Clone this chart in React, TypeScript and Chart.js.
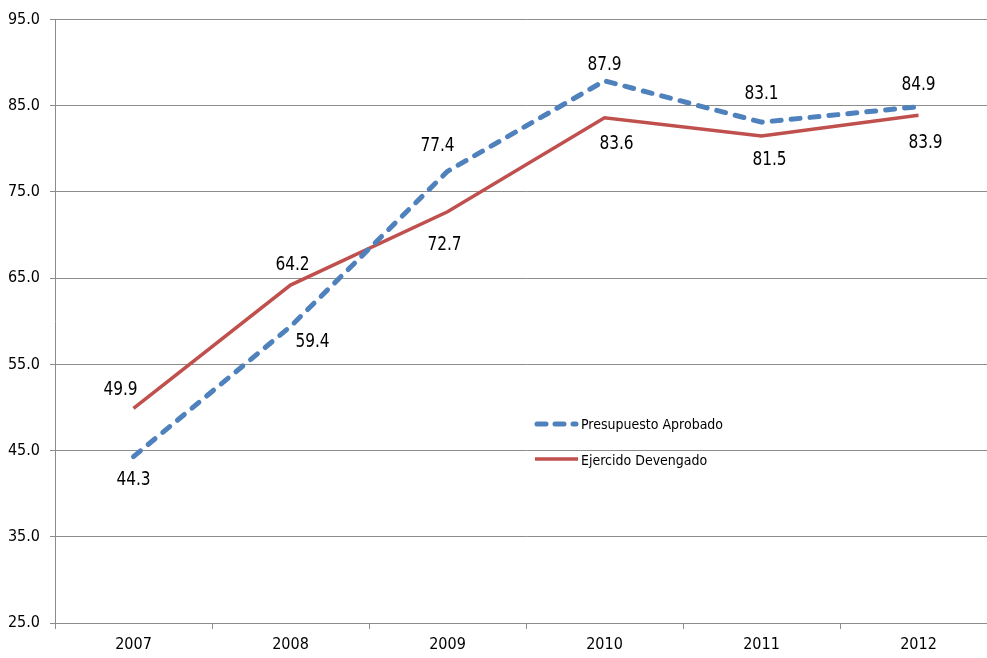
import React, { useEffect, useRef } from "react";
import { Chart, registerables } from "chart.js";

Chart.register(...registerables);

const years = ["2007", "2008", "2009", "2010", "2011", "2012"];
const presupuestoAprobado = [44.3, 59.4, 77.4, 87.9, 83.1, 84.9];
const ejercidoDevengado = [49.9, 64.2, 72.7, 83.6, 81.5, 83.9];
const seriesNames = ["Presupuesto Aprobado", "Ejercido Devengado"];

// label offsets (pixels) relative to each point
const blueLabelOffsets = [[0, 23], [22, 16], [-10, -25], [0, -16], [0, -28], [0, -22]];
const redLabelOffsets = [[-13, -18], [2, -20], [-3, 33], [12, 26], [8, 24], [7, 28]];

const FONT = "'Liberation Sans Narrow', 'DejaVu Sans Condensed', 'Liberation Sans', sans-serif";
const BLUE = "#4F81BD";
const RED = "#C0504D";
const GRID = "#8c8c8c";

export default function App() {
  const ref = useRef<HTMLCanvasElement | null>(null);

  useEffect(() => {
    if (!ref.current) return;
    const labelsPlugin = {
      id: "valueLabels",
      afterDatasetsDraw(chart: any) {
        const ctx = chart.ctx;
        ctx.save();
        ctx.font = `19px ${FONT}`;
        ctx.fillStyle = "#000";
        ctx.textAlign = "center";
        ctx.textBaseline = "middle";
        const offs = [blueLabelOffsets, redLabelOffsets];
        const sx = 0.9;
        chart.data.datasets.forEach((ds: any, di: number) => {
          const meta = chart.getDatasetMeta(di);
          meta.data.forEach((pt: any, i: number) => {
            const o = offs[di][i];
            const x = pt.x + o[0];
            const y = pt.y + o[1];
            ctx.save();
            ctx.translate(x, y);
            ctx.scale(sx, 1);
            ctx.fillText(Number(ds.data[i]).toFixed(1), 0, 0);
            ctx.restore();
          });
        });
        // legend
        ctx.font = `14px ${FONT}`;
        ctx.textAlign = "left";
        const lx = 537, ly = [424, 459];
        ctx.lineCap = "round";
        ctx.strokeStyle = BLUE;
        ctx.lineWidth = 5;
        ctx.setLineDash([9, 9]);
        ctx.beginPath();
        ctx.moveTo(lx, ly[0]);
        ctx.lineTo(lx + 39, ly[0]);
        ctx.stroke();
        ctx.setLineDash([]);
        ctx.lineCap = "butt";
        ctx.strokeStyle = RED;
        ctx.lineWidth = 3.5;
        ctx.beginPath();
        ctx.moveTo(lx - 2, ly[1]);
        ctx.lineTo(lx + 41, ly[1]);
        ctx.stroke();
        ctx.fillStyle = "#000";
        ctx.fillText(seriesNames[0], lx + 44, ly[0] + 1);
        ctx.fillText(seriesNames[1], lx + 44, ly[1] + 2);
        ctx.restore();
      },
    };

    const chart = new Chart(ref.current, {
      type: "line",
      data: {
        labels: years,
        datasets: [
          {
            label: seriesNames[0],
            data: presupuestoAprobado,
            borderColor: BLUE,
            backgroundColor: BLUE,
            borderWidth: 5,
            borderDash: [9, 10],
            borderCapStyle: "round",
            borderJoinStyle: "round",
            pointRadius: 0,
            tension: 0,
          },
          {
            label: seriesNames[1],
            data: ejercidoDevengado,
            borderColor: RED,
            backgroundColor: RED,
            borderWidth: 3.5,
            pointRadius: 0,
            tension: 0,
          },
        ],
      },
      options: {
        responsive: false,
        animation: false,
        devicePixelRatio: 1,
        layout: { padding: { top: 17, right: 0, left: 0, bottom: 0 } },
        plugins: {
          legend: { display: false },
          tooltip: { enabled: false },
          title: { display: false },
        },
        scales: {
          x: {
            type: "category",
            offset: true,
            grid: {
              offset: true,
              drawOnChartArea: false,
              drawTicks: true,
              tickLength: 6,
              color: GRID,
            },
            border: { display: true, color: GRID, width: 1 },
            ticks: {
              color: "#000",
              font: { family: FONT, size: 16 },
              padding: 6,
              maxRotation: 0,
            },
            afterFit(scale: any) {
              scale.height = 35;
            },
          },
          y: {
            min: 25,
            max: 95,
            ticks: {
              stepSize: 10,
              color: "#000",
              font: { family: FONT, size: 16 },
              padding: 10,
              callback: (v: any) => Number(v).toFixed(1),
            },
            grid: {
              color: GRID,
              lineWidth: 1,
              drawTicks: true,
              tickLength: 5,
            },
            border: { display: true, color: GRID, width: 1 },
            afterFit(scale: any) {
              scale.width = 55;
            },
          },
        },
      },
      plugins: [labelsPlugin],
    } as any);
    return () => chart.destroy();
  }, []);

  return (
    <div
      style={{
        position: "fixed",
        left: 0,
        top: 0,
        width: 987,
        height: 658,
        overflow: "hidden",
        background: "#fff",
      }}
    >
      <canvas ref={ref} width={997} height={658} style={{ display: "block" }} />
    </div>
  );
}
